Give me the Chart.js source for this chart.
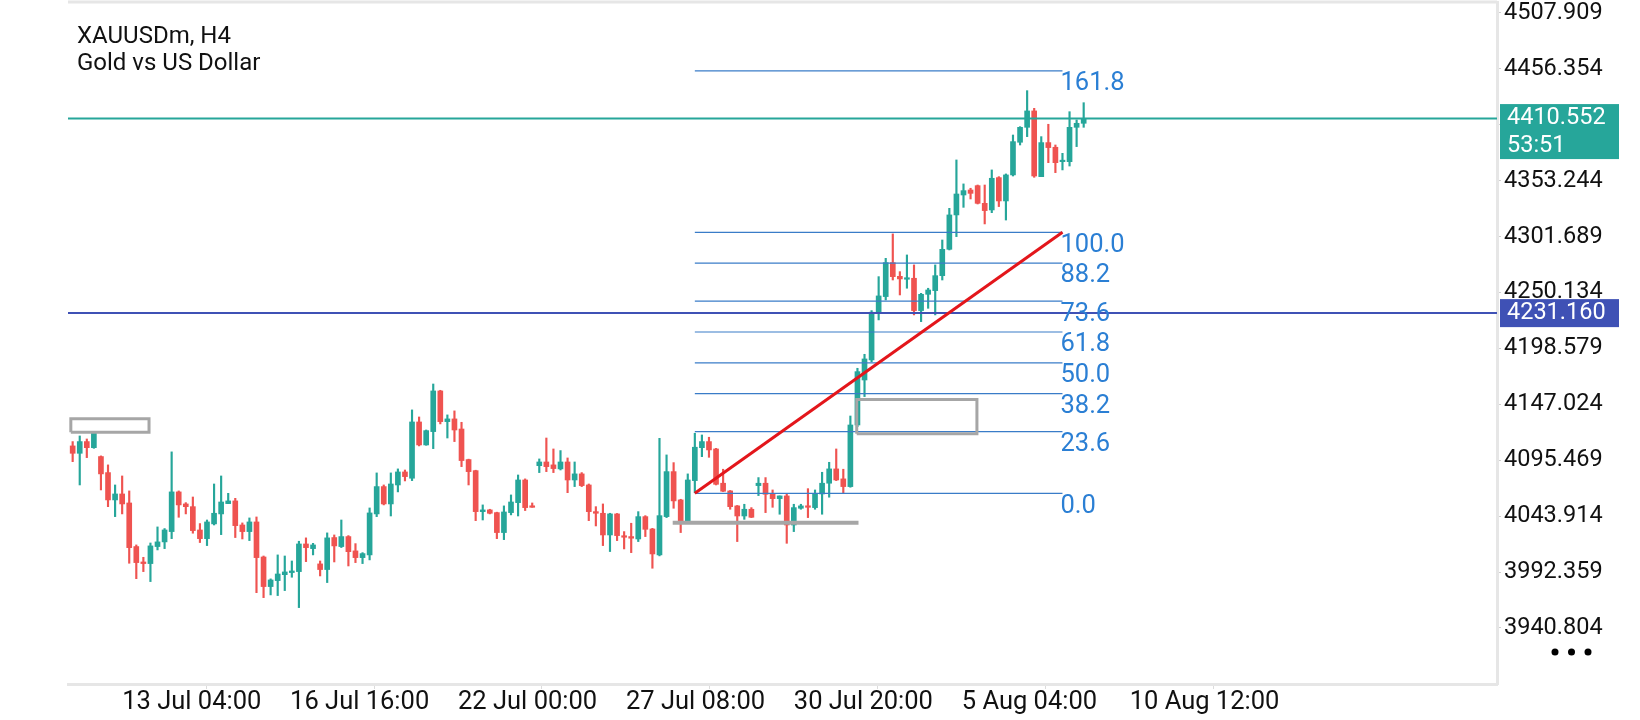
<!DOCTYPE html>
<html>
<head>
<meta charset="utf-8">
<script src="https://cdn.jsdelivr.net/npm/chart.js@4.4.1/dist/chart.umd.min.js"></script>
<style>
  html, body { margin: 0; padding: 0; background: #fff; }
  #wrap { width: 1640px; height: 720px; }
</style>
</head>
<body>
<div id="wrap"><canvas id="chart" width="1640" height="720"></canvas></div>
<script>
// XAUUSDm H4 candles (bar 0 = first visible bar)
var opens = [
  4108.7, 4101.9, 4112.7, 4107.1, 4098.9, 4084.1, 4058.9, 4064.4, 4056.1, 4015.9,
  4001.7, 4000.2, 4015.9, 4020.2, 4029.7, 4066.3, 4055.2, 4052.7, 4031.2, 4023.2,
  4036.8, 4046.0, 4055.5, 4058.0, 4035.8, 4029.7, 4038.6, 4006.3, 3979.0, 3984.5,
  3990.0, 3991.9, 3992.8, 4018.3, 4014.0, 3999.9, 3994.7, 4024.2, 4015.9, 4025.1,
  4011.9, 4005.7, 4008.2, 4046.0, 4071.2, 4055.2, 4072.7, 4084.7, 4078.9, 4130.8,
  4109.6, 4121.9, 4159.4, 4131.1, 4133.6, 4124.3, 4096.1, 4085.9, 4048.1, 4049.7,
  4047.2, 4028.8, 4047.2, 4056.4, 4077.3, 4053.4, 4090.5, 4093.9, 4091.2, 4087.5,
  4093.9, 4077.3, 4082.9, 4072.7, 4048.1, 4046.6, 4026.6, 4046.0, 4025.7, 4025.1,
  4022.9, 4043.5, 4032.1, 4008.2, 4043.5, 4085.0, 4058.9, 4038.9, 4076.7, 4107.1,
  4112.7, 4105.9, 4074.3, 4067.2, 4053.4, 4044.1, 4050.3, 4072.1, 4074.3, 4064.4,
  4060.1, 4062.6, 4035.8, 4051.2, 4053.4, 4051.8, 4064.4, 4074.3, 4087.5, 4078.3,
  4071.2, 4128.0, 4169.5, 4188.0, 4231.6, 4246.4, 4277.7, 4265.1, 4262.4, 4263.3,
  4233.5, 4248.5, 4251.9, 4265.7, 4290.0, 4321.7, 4340.1, 4344.7, 4348.7, 4332.4,
  4326.3, 4356.1, 4334.6, 4358.6, 4388.7, 4402.5, 4417.6, 4357.0, 4388.4, 4384.1,
  4370.8, 4370.8, 4402.5, 4406.2
];
var highs = [
  4112.7, 4117.9, 4115.1, 4121.9, 4099.5, 4091.2, 4072.7, 4081.0, 4067.2, 4017.4,
  4006.0, 4019.2, 4034.0, 4032.5, 4103.2, 4067.2, 4056.4, 4061.6, 4037.1, 4040.4,
  4073.6, 4081.0, 4065.0, 4060.4, 4037.7, 4042.3, 4043.2, 4007.2, 3986.1, 4008.2,
  4007.2, 4002.6, 4020.8, 4023.9, 4018.9, 4002.6, 4028.5, 4026.6, 4040.4, 4026.0,
  4018.6, 4010.3, 4051.5, 4083.8, 4072.7, 4083.8, 4087.5, 4086.5, 4141.9, 4135.4,
  4123.4, 4165.8, 4160.0, 4137.3, 4141.0, 4130.5, 4096.5, 4086.3, 4054.3, 4050.3,
  4047.6, 4053.4, 4063.5, 4081.9, 4078.3, 4056.1, 4096.7, 4116.0, 4105.9, 4104.4,
  4097.6, 4093.9, 4084.1, 4073.6, 4052.7, 4055.2, 4046.6, 4046.4, 4029.7, 4037.4,
  4048.1, 4044.4, 4032.7, 4115.7, 4100.4, 4093.3, 4059.5, 4082.9, 4120.4, 4118.8,
  4116.7, 4106.5, 4087.2, 4067.6, 4053.8, 4054.9, 4051.8, 4079.5, 4079.5, 4068.1,
  4062.6, 4065.0, 4054.9, 4054.9, 4069.3, 4068.1, 4084.4, 4093.6, 4105.9, 4087.2,
  4136.3, 4180.3, 4193.2, 4233.5, 4264.8, 4281.7, 4304.2, 4269.4, 4284.8, 4275.6,
  4249.4, 4254.1, 4275.6, 4298.6, 4327.8, 4372.4, 4350.3, 4346.3, 4349.3, 4349.3,
  4363.2, 4357.0, 4359.5, 4395.4, 4403.1, 4436.3, 4420.0, 4393.9, 4405.3, 4386.2,
  4378.5, 4416.9, 4409.3, 4425.2
];
var lows = [
  4094.2, 4072.7, 4097.9, 4106.5, 4068.1, 4052.7, 4043.5, 4046.0, 4000.5, 3986.3,
  3992.8, 3983.6, 4012.8, 4014.0, 4023.2, 4042.9, 4046.0, 4028.2, 4019.6, 4016.8,
  4035.8, 4026.9, 4055.5, 4024.2, 4022.9, 4021.4, 3973.4, 3968.8, 3971.3, 3970.7,
  3975.3, 3987.6, 3959.6, 4002.0, 4008.2, 3988.8, 3982.7, 4001.7, 4015.0, 3998.0,
  4001.1, 4000.2, 4003.6, 4043.5, 4054.3, 4044.1, 4066.3, 4076.4, 4076.7, 4108.7,
  4109.3, 4106.2, 4129.0, 4116.0, 4112.7, 4089.6, 4072.7, 4039.8, 4040.4, 4046.0,
  4023.2, 4022.3, 4045.1, 4044.1, 4049.1, 4052.1, 4084.1, 4085.0, 4084.1, 4086.5,
  4065.6, 4071.2, 4071.2, 4039.8, 4034.9, 4016.8, 4011.3, 4021.4, 4013.7, 4010.3,
  4020.5, 4025.1, 3995.9, 4007.3, 4042.6, 4051.2, 4028.8, 4038.5, 4065.6, 4098.8,
  4098.2, 4072.7, 4066.6, 4050.3, 4020.5, 4041.0, 4042.6, 4062.9, 4047.2, 4052.1,
  4045.7, 4018.9, 4029.7, 4050.3, 4042.6, 4050.3, 4045.7, 4061.4, 4076.7, 4065.6,
  4070.6, 4126.5, 4154.2, 4186.4, 4224.9, 4243.3, 4261.7, 4247.9, 4254.1, 4229.5,
  4223.3, 4235.6, 4229.5, 4261.7, 4289.4, 4301.7, 4328.7, 4336.4, 4331.8, 4313.4,
  4323.8, 4329.4, 4317.0, 4357.6, 4386.2, 4393.9, 4356.4, 4357.0, 4369.9, 4360.7,
  4363.2, 4366.8, 4384.7, 4402.5
];
var closes = [
  4101.9, 4112.7, 4107.1, 4120.4, 4082.9, 4058.9, 4064.4, 4055.2, 4014.9, 4001.1,
  4000.2, 4016.5, 4020.2, 4031.2, 4066.3, 4054.3, 4052.7, 4030.6, 4023.2, 4038.6,
  4046.6, 4057.0, 4058.0, 4035.2, 4029.7, 4038.6, 4005.7, 3979.0, 3985.1, 3990.6,
  3992.5, 3993.4, 4018.3, 4014.9, 4017.4, 3994.7, 4023.9, 4016.5, 4025.1, 4011.2,
  4005.7, 4009.4, 4046.9, 4071.2, 4055.2, 4073.6, 4084.7, 4080.4, 4130.8, 4109.6,
  4122.8, 4159.4, 4131.1, 4133.6, 4123.4, 4095.2, 4085.0, 4048.1, 4049.7, 4046.6,
  4028.8, 4047.8, 4057.0, 4077.3, 4051.8, 4052.1, 4093.9, 4089.6, 4087.8, 4093.9,
  4077.3, 4082.9, 4072.1, 4048.1, 4046.6, 4026.6, 4046.0, 4026.0, 4024.5, 4023.6,
  4043.5, 4031.8, 4009.1, 4044.4, 4085.0, 4058.0, 4038.9, 4077.3, 4107.5, 4112.7,
  4105.0, 4073.3, 4066.9, 4052.7, 4044.1, 4050.3, 4042.9, 4074.3, 4064.1, 4060.1,
  4062.6, 4035.8, 4051.8, 4053.4, 4052.1, 4065.0, 4074.3, 4087.5, 4077.3, 4071.2,
  4128.0, 4177.2, 4188.9, 4232.0, 4247.0, 4277.7, 4264.8, 4262.7, 4263.3, 4233.5,
  4248.5, 4252.5, 4265.7, 4290.0, 4321.7, 4341.0, 4344.1, 4341.6, 4332.4, 4325.7,
  4355.5, 4334.6, 4358.6, 4389.3, 4402.5, 4417.6, 4357.6, 4388.4, 4383.8, 4369.9,
  4371.8, 4402.5, 4406.2, 4410.6
];

// axes
var xTickBars = [7, 30.75, 54.5, 78.25, 102, 125.75, 149.5];
var xTickLabels = ['13 Jul 04:00', '16 Jul 16:00', '22 Jul 00:00', '27 Jul 08:00',
                   '30 Jul 20:00', '5 Aug 04:00', '10 Aug 12:00'];
var yTickValues = [3940.804, 3992.359, 4043.914, 4095.469, 4147.024, 4198.579,
                   4250.134, 4301.689, 4353.244, 4404.799, 4456.354, 4507.909];

// price lines
var bidPrice = 4410.552;
var bidTimer = '53:51';
var levelPrice = 4231.160;

// fibonacci retracement (anchors: bar / price)
var fibStartBar = 88, fibEndBar = 140;
var fibLow = 4065.0, fibHigh = 4305.7;
var fibLevels = [0, 23.6, 38.2, 50, 61.8, 73.6, 88.2, 100, 161.8];
var fibLabels = ['0.0', '23.6', '38.2', '50.0', '61.8', '73.6', '88.2', '100.0', '161.8'];

// gray rectangles and support line: [barFrom, barTo, priceLow, priceHigh]
var box1 = [-0.26, 10.8, 4121.35, 4133.7];
var box2 = [110.9, 127.9, 4119.98, 4151.5];
var supportLine = [84.87, 111.15, 4037.9];

var GREEN = '#26a69a', RED = '#ef5350', FIB = '#2b7fd4', GRAY = '#a6a6a6';
var X_MIN = -0.66, X_MAX = 201.46;

var candleColors = closes.map(function (c, i) { return c >= opens[i] ? GREEN : RED; });
var wickData = highs.map(function (h, i) { return { x: i, y: [lows[i], h] }; });
var bodyData = opens.map(function (o, i) {
  return { x: i, y: [Math.min(o, closes[i]), Math.max(o, closes[i])] };
});

function hLine(x0, x1, y, color, width, order) {
  return {
    type: 'line', data: [{ x: x0, y: y }, { x: x1, y: y }],
    borderColor: color, borderWidth: width, pointRadius: 0, fill: false, order: order
  };
}
function rectLine(b) {
  return {
    type: 'line',
    data: [{ x: b[0], y: b[2] }, { x: b[1], y: b[2] }, { x: b[1], y: b[3] },
           { x: b[0], y: b[3] }, { x: b[0], y: b[2] }],
    borderColor: GRAY, borderWidth: 3, pointRadius: 0, fill: false, order: 2,
    borderJoinStyle: 'miter'
  };
}

var datasets = [
  { type: 'bar', data: wickData, backgroundColor: candleColors, barThickness: 1.5,
    grouped: false, order: 10 },
  { type: 'bar', data: bodyData, backgroundColor: candleColors, barThickness: 5,
    minBarLength: 1.5, grouped: false, order: 9 }
];
fibLevels.forEach(function (lv) {
  datasets.push(hLine(fibStartBar, fibEndBar, fibLow + (fibHigh - fibLow) * lv / 100, '#3a7cc8', 1.2, 8));
});
datasets.push(hLine(X_MIN, X_MAX, bidPrice, GREEN, 2, 4));
datasets.push(hLine(X_MIN, X_MAX, levelPrice, '#3f51b5', 2, 4));
datasets.push(rectLine(box1));
datasets.push(rectLine(box2));
datasets.push(hLine(supportLine[0], supportLine[1], supportLine[2], GRAY, 4, 2));
datasets.push({
  type: 'line', data: [{ x: fibStartBar, y: fibLow }, { x: fibEndBar, y: fibHigh }],
  borderColor: '#e3161b', borderWidth: 3, pointRadius: 0, fill: false, order: 1
});

var overlay = {
  id: 'overlay',
  afterDraw: function (chart) {
    var ctx = chart.ctx, area = chart.chartArea;
    var xs = chart.scales.x, ys = chart.scales.y;
    ctx.save();
    // top frame line
    ctx.strokeStyle = '#e6e6e6';
    ctx.lineWidth = 3;
    ctx.beginPath();
    ctx.moveTo(area.left, area.top);
    ctx.lineTo(area.right, area.top);
    ctx.stroke();

    // symbol title
    ctx.fillStyle = '#111';
    ctx.font = '24px Roboto';
    ctx.textAlign = 'left';
    ctx.textBaseline = 'alphabetic';
    ctx.fillText('XAUUSDm, H4', 77, 43);
    ctx.fillText('Gold vs US Dollar', 77, 70);

    // fib level labels
    ctx.fillStyle = FIB;
    ctx.font = '25.5px Roboto';
    ctx.textBaseline = 'middle';
    var lx = xs.getPixelForValue(fibEndBar) - 2;
    fibLevels.forEach(function (lv, i) {
      var y = ys.getPixelForValue(fibLow + (fibHigh - fibLow) * lv / 100);
      ctx.fillText(fibLabels[i], lx, y + 13);
    });

    // price tags
    ctx.font = '23.5px Roboto';
    var yb = ys.getPixelForValue(bidPrice);
    ctx.fillStyle = GREEN;
    ctx.fillRect(area.right + 3, yb - 14.5, 119, 55);
    ctx.fillStyle = '#fff';
    ctx.fillText(bidPrice.toFixed(3), area.right + 10, yb);
    ctx.fillText(bidTimer, area.right + 10, yb + 28);

    var yl = ys.getPixelForValue(levelPrice);
    ctx.fillStyle = '#3f51b5';
    ctx.fillRect(area.right + 3, yl - 14, 119, 28);
    ctx.fillStyle = '#fff';
    ctx.fillText(levelPrice.toFixed(3), area.right + 10, yl);

    // menu dots
    ctx.fillStyle = '#000';
    [1555, 1571.5, 1588].forEach(function (dx) {
      ctx.beginPath();
      ctx.arc(dx, 652, 3.5, 0, Math.PI * 2);
      ctx.fill();
    });
    ctx.restore();
  }
};

new Chart(document.getElementById('chart'), {
  type: 'bar',
  data: { datasets: datasets },
  options: {
    responsive: false,
    animation: false,
    devicePixelRatio: 1,
    layout: { padding: { left: 68, top: 2, right: 0, bottom: 0 } },
    plugins: { legend: { display: false }, tooltip: { enabled: false } },
    scales: {
      x: {
        type: 'linear', position: 'bottom', min: X_MIN, max: X_MAX, offset: false,
        grid: { drawOnChartArea: false, tickLength: 5, tickColor: '#dcdcdc' },
        border: { color: '#e6e6e6', width: 3 },
        ticks: {
          autoSkip: false, maxRotation: 0, align: 'start', padding: 1, color: '#111',
          font: { family: 'Roboto', size: 25.5, lineHeight: 1 },
          callback: function (v, i) { return xTickLabels[i]; }
        },
        afterBuildTicks: function (s) {
          s.ticks = xTickBars.map(function (v) { return { value: v }; });
        },
        afterFit: function (s) {
          s.height = 36;
          s.paddingLeft = 0; s.paddingRight = 0;
        }
      },
      y: {
        type: 'linear', position: 'right', min: 3889.16, max: 4518.05,
        grid: { drawOnChartArea: false, tickLength: 4, tickColor: '#cfcfcf' },
        border: { color: '#e6e6e6', width: 3 },
        ticks: {
          padding: 3, color: '#111',
          font: { family: 'Roboto', size: 23.5 },
          callback: function (v) { return Number(v).toFixed(3); }
        },
        afterBuildTicks: function (s) {
          s.ticks = yTickValues.map(function (v) { return { value: v }; });
        },
        afterFit: function (s) {
          s.width = 143;
          s.paddingTop = 0; s.paddingBottom = 0;
        }
      }
    }
  },
  plugins: [overlay]
});
</script>
</body>
</html>
